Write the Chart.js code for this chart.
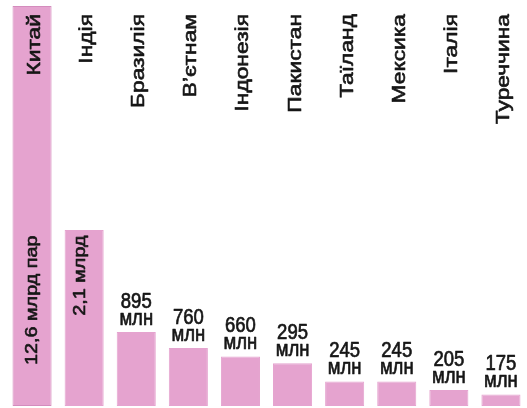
<!DOCTYPE html>
<html lang="uk">
<head>
<meta charset="utf-8">
<script src="https://cdn.jsdelivr.net/npm/chart.js@4"></script>
<style>
  html, body { margin: 0; padding: 0; background: #fff; }
  canvas { display: block; }
</style>
</head>
<body>
<canvas id="chart" width="527" height="408"></canvas>
<script>
// Categories (countries)
const countries = ['Китай', 'Індія', 'Бразилія', 'В\u2019єтнам', 'Індонезія', 'Пакистан', 'Таїланд', 'Мексика', 'Італія', 'Туреччина'];

// Label text shown on the chart
const valueNumbers = ['12,6', '2,1', '895', '760', '660', '295', '245', '245', '205', '175'];
const valueUnits = ['млрд пар', 'млрд', 'млн', 'млн', 'млн', 'млн', 'млн', 'млн', 'млн', 'млн'];

// Bar lengths as drawn in the infographic (not to scale), % of the tallest bar
const barLengths = [100, 44, 18.5, 14.5, 12.4, 10.7, 6.1, 6.1, 4.0, 2.9];

const PINK = '#e5a3cf';
const INK = '#161616';
const STRETCH = 1.2; // the original lettering is drawn tall and narrow

// fill + thin stroke, the source lettering is a bit heavier than regular
function heavyText(ctx, text) {
  ctx.fillText(text, 0, 0);
  ctx.strokeText(text, 0, 0);
}

const labelPlugin = {
  id: 'infoLabels',
  afterDatasetsDraw(chart) {
    const ctx = chart.ctx;
    const bars = chart.getDatasetMeta(0).data;
    ctx.save();
    ctx.fillStyle = INK;
    ctx.strokeStyle = INK;
    ctx.lineWidth = 0.6;
    ctx.lineJoin = 'round';

    // country names, vertical, hanging from the top
    ctx.font = '19px "Liberation Sans", Arial, sans-serif';
    ctx.textAlign = 'right';
    ctx.textBaseline = 'alphabetic';
    bars.forEach((bar, i) => {
      ctx.save();
      ctx.translate(bar.x + 8, chart.chartArea.top + 8);
      ctx.rotate(-Math.PI / 2);
      ctx.scale(STRETCH, 1);
      heavyText(ctx, countries[i]);
      ctx.restore();
    });

    // first two values sit inside their bars, vertical
    const insideEnd = bars[1].y + 5.5;
    const insideShift = [5, 1];
    ctx.font = '16.5px "Liberation Sans", Arial, sans-serif';
    [0, 1].forEach(i => {
      ctx.save();
      ctx.translate(bars[i].x + insideShift[i], insideEnd);
      ctx.rotate(-Math.PI / 2);
      ctx.scale(STRETCH, 1);
      heavyText(ctx, valueNumbers[i] + ' ' + valueUnits[i]);
      ctx.restore();
    });

    // the rest: number over unit, above the bar
    ctx.font = '18.5px "Liberation Sans", Arial, sans-serif';
    ctx.textAlign = 'center';
    for (let i = 2; i < bars.length; i++) {
      const b = bars[i];
      ctx.save();
      ctx.translate(b.x, b.y - 24.5);
      ctx.scale(1, STRETCH);
      heavyText(ctx, valueNumbers[i]);
      ctx.restore();
      ctx.save();
      ctx.translate(b.x, b.y - 7.5);
      ctx.scale(1, STRETCH);
      heavyText(ctx, valueUnits[i]);
      ctx.restore();
    }
    ctx.restore();
  }
};

new Chart(document.getElementById('chart'), {
  type: 'bar',
  data: {
    labels: countries,
    datasets: [{
      data: barLengths,
      backgroundColor: PINK,
      borderColor: countries.map((c, i) => i === 0 ? '#d48cbd' : PINK),
      borderWidth: 1,
      borderSkipped: false,
      categoryPercentage: 1,
      barPercentage: 0.75
    }]
  },
  options: {
    responsive: false,
    devicePixelRatio: 1,
    animation: false,
    layout: {
      padding: { left: 6, right: 0, top: 6, bottom: 2 }
    },
    plugins: {
      legend: { display: false },
      tooltip: { enabled: false }
    },
    scales: {
      x: { display: false },
      y: { display: false, min: 0, max: 100 }
    }
  },
  plugins: [labelPlugin]
});
</script>
</body>
</html>
